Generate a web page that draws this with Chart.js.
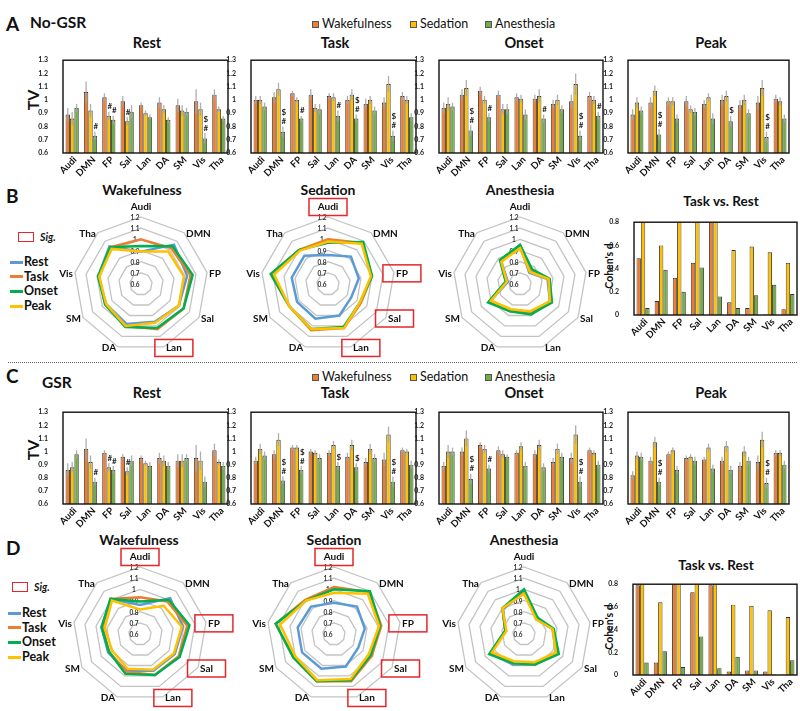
<!DOCTYPE html>
<html>
<head>
<meta charset="utf-8">
<title>TV No-GSR / GSR</title>
<script src="https://cdn.jsdelivr.net/npm/chart.js@4.4.1/dist/chart.umd.min.js"></script>
<style>
  html, body { margin: 0; padding: 0; background: #fff; }
  #page { position: relative; width: 800px; height: 711px; overflow: hidden;
          font-family: Lato, "Open Sans", sans-serif; color: #111; }
  .t { position: absolute; white-space: nowrap; line-height: 1; }
  .xl { position: absolute; white-space: nowrap; line-height: 1; font-size: 9.5px; font-weight: bold;
        transform-origin: 100% 50%; transform: translate(-100%, -50%) rotate(-45deg); }
  .cv { position: absolute; }
  .sep { position: absolute; left: 8px; width: 789px; top: 362px; border-top: 1.5px dotted #666; }
</style>
</head>
<body>
<div id="page"><div class="sep"></div></div>
<script>
// ---- categories / labels ----
const regions = ['Audi', 'DMN', 'FP', 'Sal', 'Lan', 'DA', 'SM', 'Vis', 'Tha'];
const conditions = ['Wakefulness', 'Sedation', 'Anesthesia'];
const phases = ['Rest', 'Task', 'Onset', 'Peak'];
const radarTicks = [0.6, 0.7, 0.8, 0.9, 1.0, 1.1, 1.2];

// ---- No-GSR TV (mean) ----
const ngRestWake  = [0.89, 1.06, 1.02, 0.99, 0.96, 0.98, 0.96, 0.99, 1.04];
const ngRestSed   = [0.86, 0.92, 0.88, 0.84, 0.90, 0.93, 0.92, 0.93, 0.93];
const ngRestAnes  = [0.94, 0.73, 0.85, 0.91, 0.87, 0.85, 0.91, 0.71, 0.86];
const ngTaskWake  = [1.00, 1.02, 1.05, 1.04, 1.03, 1.00, 0.97, 0.98, 1.03];
const ngTaskSed   = [1.00, 1.08, 1.00, 0.94, 1.02, 1.04, 1.00, 1.12, 1.00];
const ngTaskAnes  = [0.95, 0.76, 0.86, 0.93, 0.88, 0.86, 0.92, 0.73, 0.87];
const ngOnsetWake = [0.94, 1.04, 1.07, 1.04, 1.02, 1.01, 0.97, 0.99, 1.03];
const ngOnsetSed  = [0.97, 1.09, 1.00, 0.93, 1.01, 1.03, 1.00, 1.12, 1.00];
const ngOnsetAnes = [0.95, 0.77, 0.87, 0.93, 0.89, 0.86, 0.93, 0.73, 0.88];
const ngPeakWake  = [0.89, 0.98, 0.99, 0.99, 0.97, 1.00, 0.96, 0.98, 1.01];
const ngPeakSed   = [0.98, 1.07, 0.99, 0.93, 1.02, 1.03, 1.00, 1.09, 0.99];
const ngPeakAnes  = [0.92, 0.74, 0.86, 0.91, 0.86, 0.84, 0.90, 0.72, 0.86];

// ---- No-GSR error bars ----
const ngRestWakeErr  = [0.05, 0.08, 0.03, 0.04, 0.02, 0.04, 0.05, 0.09, 0.04];
const ngRestSedErr   = [0.05, 0.05, 0.03, 0.03, 0.02, 0.03, 0.04, 0.05, 0.02];
const ngRestAnesErr  = [0.03, 0.03, 0.03, 0.05, 0.02, 0.02, 0.03, 0.04, 0.02];
const ngTaskWakeErr  = [0.03, 0.04, 0.02, 0.04, 0.02, 0.03, 0.04, 0.04, 0.03];
const ngTaskSedErr   = [0.03, 0.05, 0.02, 0.03, 0.03, 0.04, 0.03, 0.06, 0.03];
const ngTaskAnesErr  = [0.03, 0.04, 0.02, 0.04, 0.04, 0.03, 0.03, 0.04, 0.03];
const ngOnsetWakeErr = [0.04, 0.04, 0.03, 0.03, 0.03, 0.03, 0.03, 0.05, 0.03];
const ngOnsetSedErr  = [0.05, 0.06, 0.03, 0.04, 0.03, 0.05, 0.04, 0.08, 0.03];
const ngOnsetAnesErr = [0.03, 0.04, 0.03, 0.04, 0.04, 0.03, 0.03, 0.04, 0.03];
const ngPeakWakeErr  = [0.04, 0.04, 0.03, 0.04, 0.03, 0.04, 0.04, 0.05, 0.03];
const ngPeakSedErr   = [0.04, 0.04, 0.03, 0.03, 0.03, 0.04, 0.04, 0.06, 0.03];
const ngPeakAnesErr  = [0.03, 0.04, 0.03, 0.03, 0.04, 0.04, 0.03, 0.04, 0.03];

// ---- No-GSR significance marks ----
const ngRestSedMark   = ['', '', '#', '#', '', '', '', '', ''];
const ngRestAnesMark  = ['', '#', '#', '', '', '', '', '$#', ''];
const ngTaskAnesMark  = ['', '$#', '#', '', '#', '$#', '', '$#', ''];
const ngOnsetAnesMark = ['', '$#', '#', '', '', '#', '', '$#', '#'];
const ngPeakAnesMark  = ['', '$#', '', '', '', '$', '', '$#', ''];

// ---- GSR TV (mean) ----
const gsrRestWake  = [0.86, 1.02, 0.99, 0.96, 0.95, 0.95, 0.93, 0.95, 1.01];
const gsrRestSed   = [0.88, 0.92, 0.88, 0.85, 0.91, 0.93, 0.93, 0.93, 0.92];
const gsrRestAnes  = [0.98, 0.77, 0.86, 0.93, 0.89, 0.89, 0.95, 0.77, 0.89];
const gsrTaskWake  = [0.93, 0.98, 1.03, 1.00, 0.99, 0.96, 0.92, 0.94, 1.01];
const gsrTaskSed   = [1.02, 1.09, 1.03, 0.99, 1.05, 1.05, 1.02, 1.13, 1.00];
const gsrTaskAnes  = [0.97, 0.78, 0.86, 0.95, 0.89, 0.88, 0.95, 0.77, 0.90];
const gsrOnsetWake = [0.89, 1.00, 1.05, 1.01, 0.99, 0.98, 0.92, 0.95, 1.01];
const gsrOnsetSed  = [1.00, 1.10, 1.02, 0.98, 1.04, 1.05, 1.02, 1.13, 0.99];
const gsrOnsetAnes = [1.00, 0.79, 0.87, 0.96, 0.89, 0.88, 0.96, 0.77, 0.90];
const gsrPeakWake  = [0.82, 0.93, 0.98, 0.95, 0.94, 0.93, 0.89, 0.92, 0.99];
const gsrPeakSed   = [0.97, 1.07, 1.01, 0.96, 1.03, 1.04, 1.00, 1.09, 0.99];
const gsrPeakAnes  = [0.96, 0.77, 0.86, 0.93, 0.87, 0.86, 0.93, 0.76, 0.90];

// ---- GSR error bars ----
const gsrRestWakeErr  = [0.05, 0.08, 0.02, 0.02, 0.02, 0.04, 0.05, 0.10, 0.05];
const gsrRestSedErr   = [0.04, 0.05, 0.03, 0.03, 0.02, 0.04, 0.05, 0.07, 0.02];
const gsrRestAnesErr  = [0.03, 0.03, 0.03, 0.04, 0.03, 0.03, 0.03, 0.04, 0.03];
const gsrTaskWakeErr  = [0.03, 0.03, 0.02, 0.02, 0.02, 0.03, 0.03, 0.05, 0.02];
const gsrTaskSedErr   = [0.04, 0.05, 0.02, 0.02, 0.03, 0.04, 0.04, 0.06, 0.02];
const gsrTaskAnesErr  = [0.03, 0.03, 0.03, 0.03, 0.03, 0.03, 0.03, 0.04, 0.03];
const gsrOnsetWakeErr = [0.03, 0.03, 0.02, 0.03, 0.02, 0.03, 0.03, 0.04, 0.02];
const gsrOnsetSedErr  = [0.05, 0.06, 0.03, 0.03, 0.03, 0.04, 0.04, 0.07, 0.02];
const gsrOnsetAnesErr = [0.03, 0.04, 0.03, 0.02, 0.03, 0.03, 0.03, 0.04, 0.03];
const gsrPeakWakeErr  = [0.03, 0.03, 0.02, 0.02, 0.02, 0.03, 0.03, 0.05, 0.02];
const gsrPeakSedErr   = [0.03, 0.04, 0.02, 0.02, 0.03, 0.04, 0.04, 0.06, 0.02];
const gsrPeakAnesErr  = [0.03, 0.03, 0.03, 0.03, 0.03, 0.03, 0.03, 0.04, 0.03];

// ---- GSR significance marks ----
const gsrRestSedMark   = ['', '', '#', '#', '', '', '', '', ''];
const gsrRestAnesMark  = ['', '#', '#', '', '', '', '', '', ''];
const gsrTaskAnesMark  = ['', '$#', '$#', '', '$', '$', '', '$#', ''];
const gsrOnsetAnesMark = ['', '$#', '#', '', '', '', '', '$#', ''];
const gsrPeakAnesMark  = ['', '$#', '', '', '', '', '', '$#', ''];
const noMark = ['', '', '', '', '', '', '', '', ''];

// ---- Cohen's d, Task vs. Rest ----
const ngCohenWake  = [0.49, 0.12, 0.32, 0.45, 0.95, 0.11, 0.06, 0.005, 0.05];
const ngCohenSed   = [0.98, 0.60, 0.93, 0.90, 1.02, 0.56, 0.59, 0.54, 0.45];
const ngCohenAnes  = [0.06, 0.39, 0.20, 0.41, 0.16, 0.06, 0.17, 0.26, 0.18];
const gsrCohenWake = [0.79, 0.11, 0.92, 0.73, 0.79, 0.03, 0.04, 0.03, 0.005];
const gsrCohenSed  = [0.96, 0.64, 0.98, 0.91, 0.95, 0.62, 0.61, 0.57, 0.51];
const gsrCohenAnes = [0.11, 0.21, 0.07, 0.34, 0.06, 0.16, 0.04, 0.005, 0.13];

// ---- regions boxed as significant in the radar plots ----
const ngSigWake  = ['Lan'];
const ngSigSed   = ['Audi', 'FP', 'Sal', 'Lan'];
const ngSigAnes  = [];
const gsrSigWake = ['Audi', 'FP', 'Sal', 'Lan'];
const gsrSigSed  = ['Audi', 'FP', 'Sal', 'Lan'];
const gsrSigAnes = [];

// ---- styling ----
const FONT = 'Lato, "Open Sans", sans-serif';
const condColors = ['#ED7D31', '#FFC000', '#70AD47'];
const phaseColors = ['#5B9BD5', '#ED7D31', '#00B050', '#FFC000'];

Chart.defaults.font.family = FONT;
Chart.defaults.animation = false;

const page = document.getElementById('page');

function addText(str, x, y, size, o) {
    o = o || {};
    const d = document.createElement('div');
    d.className = 't';
    d.textContent = str;
    d.style.left = x + 'px';
    d.style.top = y + 'px';
    d.style.fontSize = size + 'px';
    d.style.fontWeight = o.bold === false ? 'normal' : 'bold';
    if (o.italic) d.style.fontStyle = 'italic';
    const tx = o.align === 'center' ? '-50%' : '0';
    let tr = 'translate(' + tx + ',-50%)';
    if (o.rotate) tr += ' rotate(' + o.rotate + 'deg)';
    d.style.transform = tr;
    page.appendChild(d);
}

function addBox(x, y, w, h, css) {
    const d = document.createElement('div');
    d.style.position = 'absolute';
    d.style.left = x + 'px';
    d.style.top = y + 'px';
    d.style.width = w + 'px';
    d.style.height = h + 'px';
    d.style.boxSizing = 'border-box';
    Object.assign(d.style, css);
    page.appendChild(d);
}

function makeCanvas(left, top, w, h) {
    const c = document.createElement('canvas');
    c.className = 'cv';
    c.width = w;
    c.height = h;
    c.style.left = left + 'px';
    c.style.top = top + 'px';
    c.style.width = w + 'px';
    c.style.height = h + 'px';
    page.appendChild(c);
    return c;
}

const fmtTick = v => String(+v.toFixed(2));

// error bars, # / $ marks and the black frame of a bar panel
const panelDecor = {
    id: 'panelDecor',
    afterDatasetsDraw(chart, args, opts) {
        const ctx = chart.ctx, area = chart.chartArea, y = chart.scales.y;
        ctx.save();
        if (opts.errors) {
            chart.data.datasets.forEach((ds, di) => {
                const meta = chart.getDatasetMeta(di);
                meta.data.forEach((bar, i) => {
                    const v = ds.data[i], e = opts.errors[di][i];
                    const top = y.getPixelForValue(v + e);
                    ctx.strokeStyle = 'rgba(165,165,165,0.9)';
                    ctx.lineWidth = 1.3;
                    ctx.beginPath();
                    ctx.moveTo(bar.x, top);
                    ctx.lineTo(bar.x, y.getPixelForValue(v - e));
                    ctx.stroke();
                    const mk = opts.marks && opts.marks[di][i];
                    if (mk) {
                        ctx.fillStyle = '#222';
                        ctx.font = 'bold 8px ' + FONT;
                        ctx.textAlign = 'center';
                        ctx.textBaseline = 'middle';
                        for (let k = mk.length - 1; k >= 0; k--) {
                            ctx.fillText(mk[k], bar.x + 1, top - 5 - (mk.length - 1 - k) * 9);
                        }
                    }
                });
            });
        }
        ctx.strokeStyle = '#111';
        ctx.lineWidth = 1.4;
        ctx.strokeRect(area.left, area.top, area.right - area.left, area.bottom - area.top);
        ctx.restore();
    }
};

const PAD_L = 26, PAD_T = 6, PAD_R = 4, PAD_B = 34;

function barPanel(rect, series, yMin, yMax, step, errors, marks) {
    const w = rect.r - rect.l, h = rect.b - rect.t;
    const left = rect.l - PAD_L, top = rect.t - PAD_T;
    const cv = makeCanvas(left, top, w + PAD_L + PAD_R, h + PAD_T + PAD_B);
    const chart = new Chart(cv, {
        type: 'bar',
        data: {
            labels: regions,
            datasets: series.map((d, i) => ({
                label: conditions[i],
                data: d,
                backgroundColor: condColors[i],
                borderColor: '#333',
                borderWidth: 0.9,
                categoryPercentage: 0.72,
                barPercentage: 1.0,
                clip: 0
            }))
        },
        options: {
            responsive: false,
            layout: { padding: { top: PAD_T, right: PAD_R, left: 0, bottom: 0 } },
            plugins: {
                legend: { display: false },
                tooltip: { enabled: false },
                panelDecor: { errors: errors, marks: marks }
            },
            scales: {
                x: {
                    grid: { display: false },
                    border: { display: false },
                    ticks: { display: false },
                    afterFit: s => { s.height = PAD_B; }
                },
                y: {
                    min: yMin, max: yMax,
                    grid: { display: false },
                    border: { display: false },
                    ticks: {
                        stepSize: step, padding: 7, color: '#222',
                        font: { size: 7, weight: 'bold' },
                        callback: v => fmtTick(v)
                    },
                    afterFit: s => { s.width = PAD_L; }
                }
            }
        },
        plugins: [panelDecor]
    });
    // 45 degree category labels, placed at the scale's tick pixels
    const xs = chart.scales.x, area = chart.chartArea;
    regions.forEach((lab, i) => {
        const d = document.createElement('div');
        d.className = 'xl';
        d.textContent = lab;
        d.style.left = (left + xs.getPixelForTick(i) + 3) + 'px';
        d.style.top = (top + area.bottom + 5) + 'px';
        page.appendChild(d);
    });
    return chart;
}

// tick labels, point labels and the red "Sig." boxes on a radar
const radarDecor = {
    id: 'radarDecor',
    beforeDatasetsDraw(chart) {
        const r = chart.scales.r, ctx = chart.ctx;
        ctx.save();
        ctx.font = 'bold 6.5px ' + FONT;
        ctx.fillStyle = '#333';
        ctx.textAlign = 'center';
        ctx.textBaseline = 'middle';
        radarTicks.forEach(v => {
            ctx.fillText(fmtTick(v), r.xCenter - 6, r.yCenter - r.getDistanceFromCenterForValue(v) + 1);
        });
        ctx.restore();
    },
    afterDraw(chart, args, opts) {
        const r = chart.scales.r, ctx = chart.ctx;
        ctx.save();
        ctx.font = 'bold 10px ' + FONT;
        ctx.fillStyle = '#111';
        ctx.textBaseline = 'middle';
        chart.data.labels.forEach((lab, i) => {
            const p = r.getPointPosition(i, r.drawingArea);
            const tw = ctx.measureText(lab).width;
            let cx, cy;
            if (i === 0) {
                cx = p.x; cy = p.y - 10;
            } else if (p.x > r.xCenter) {
                cx = p.x + 2 + tw / 2; cy = p.y + 1;
            } else {
                cx = p.x - 2 - tw / 2; cy = p.y + 1;
            }
            ctx.textAlign = 'center';
            ctx.fillText(lab, cx, cy);
            if (opts.sig && opts.sig.indexOf(lab) >= 0) {
                ctx.strokeStyle = '#E5262B';
                ctx.lineWidth = 1.5;
                ctx.strokeRect(cx - 19, cy - 8.5, 38, 17);
            }
        });
        ctx.restore();
    }
};

const RAD = 67;

function radarPanel(cx, cy, series, sig) {
    const W = 250, H = 190;
    const cv = makeCanvas(cx - W / 2, cy - H / 2, W, H);
    return new Chart(cv, {
        type: 'radar',
        data: {
            labels: regions,
            datasets: series.map((d, i) => ({
                label: phases[i],
                data: d,
                borderColor: phaseColors[i],
                backgroundColor: 'transparent',
                borderWidth: 2.5,
                pointRadius: 0,
                fill: false,
                order: 3 - i
            }))
        },
        options: {
            responsive: false,
            layout: { padding: { left: W / 2 - RAD, right: W / 2 - RAD, top: H / 2 - RAD, bottom: H / 2 - RAD } },
            plugins: {
                legend: { display: false },
                tooltip: { enabled: false },
                radarDecor: { sig: sig }
            },
            scales: {
                r: {
                    min: 0.6, max: 1.2,
                    ticks: { display: false, stepSize: 0.1 },
                    grid: { circular: false, color: '#c3c3c3', lineWidth: 1.3 },
                    angleLines: { display: false },
                    pointLabels: { display: false }
                }
            }
        },
        plugins: [radarDecor]
    });
}

// ---------------- static text ----------------
function condLegend(y) {
    [[312, 0], [410, 1], [485, 2]].forEach(([x, i]) => {
        addBox(x, y - 3.5, 7, 7, { background: condColors[i], border: '1px solid #555' });
        addText(conditions[i], x + 10, y, 12.5, { bold: false });
    });
}

function phaseLegend(x, y0, sigX, sigY) {
    addBox(sigX, sigY - 5, 16, 10, { border: '1.5px solid #E5262B' });
    addText('Sig.', sigX + 22, sigY, 10.5, { italic: true });
    phases.forEach((p, i) => {
        const y = y0 + i * 14.7;
        addBox(x, y - 1.5, 13, 3, { background: phaseColors[i] });
        addText(p, x + 14, y, 12.5);
    });
}

addText('A', 6, 23, 19);
addText('No-GSR', 30, 23, 15.5);
condLegend(24);
addText('TV', 33, 100, 16, { align: 'center', rotate: -90 });

addText('B', 6, 195, 19);
phaseLegend(10, 262, 18, 237);
addText('Task vs. Rest', 721, 202, 13.5, { align: 'center' });
addText("Cohen's d", 609, 266, 10.5, { align: 'center', rotate: -90 });

addText('C', 6, 375, 19);
addText('GSR', 42, 383, 15.5);
condLegend(377);
addText('TV', 33, 450, 16, { align: 'center', rotate: -90 });

addText('D', 6, 547, 19);
phaseLegend(8, 613, 12, 587);
addText('Task vs. Rest', 716, 566, 13.5, { align: 'center' });
addText("Cohen's d", 609, 627, 10.5, { align: 'center', rotate: -90 });

// panel titles
const titleX = [147, 335, 524, 711];
phases.forEach((p, i) => {
    addText(p, titleX[i], 43, 14.5, { align: 'center' });
    addText(p, titleX[i], 393, 14.5, { align: 'center' });
});
[[142, 190], [328, 190], [520, 190], [139, 540], [334, 540], [524, 540]].forEach(([x, y], i) => {
    addText(conditions[i % 3], x, y, 14, { align: 'center' });
});

// ---------------- charts ----------------
const colL = [63, 251, 439, 628], colR = [228, 416, 603, 789];

const ngSeries = [
    [ngRestWake, ngRestSed, ngRestAnes],
    [ngTaskWake, ngTaskSed, ngTaskAnes],
    [ngOnsetWake, ngOnsetSed, ngOnsetAnes],
    [ngPeakWake, ngPeakSed, ngPeakAnes]
];
const ngErrs = [
    [ngRestWakeErr, ngRestSedErr, ngRestAnesErr],
    [ngTaskWakeErr, ngTaskSedErr, ngTaskAnesErr],
    [ngOnsetWakeErr, ngOnsetSedErr, ngOnsetAnesErr],
    [ngPeakWakeErr, ngPeakSedErr, ngPeakAnesErr]
];
const ngMarks = [
    [noMark, ngRestSedMark, ngRestAnesMark],
    [noMark, noMark, ngTaskAnesMark],
    [noMark, noMark, ngOnsetAnesMark],
    [noMark, noMark, ngPeakAnesMark]
];
const gsrSeries = [
    [gsrRestWake, gsrRestSed, gsrRestAnes],
    [gsrTaskWake, gsrTaskSed, gsrTaskAnes],
    [gsrOnsetWake, gsrOnsetSed, gsrOnsetAnes],
    [gsrPeakWake, gsrPeakSed, gsrPeakAnes]
];
const gsrErrs = [
    [gsrRestWakeErr, gsrRestSedErr, gsrRestAnesErr],
    [gsrTaskWakeErr, gsrTaskSedErr, gsrTaskAnesErr],
    [gsrOnsetWakeErr, gsrOnsetSedErr, gsrOnsetAnesErr],
    [gsrPeakWakeErr, gsrPeakSedErr, gsrPeakAnesErr]
];
const gsrMarks = [
    [noMark, gsrRestSedMark, gsrRestAnesMark],
    [noMark, noMark, gsrTaskAnesMark],
    [noMark, noMark, gsrOnsetAnesMark],
    [noMark, noMark, gsrPeakAnesMark]
];

for (let p = 0; p < 4; p++) {
    barPanel({ l: colL[p], r: colR[p], t: 55, b: 153 }, ngSeries[p], 0.6, 1.3, 0.1, ngErrs[p], ngMarks[p]);
    barPanel({ l: colL[p], r: colR[p], t: 407, b: 504 }, gsrSeries[p], 0.6, 1.3, 0.1, gsrErrs[p], gsrMarks[p]);
}

// radar: one chart per condition, one line per phase
const ngSig = [ngSigWake, ngSigSed, ngSigAnes];
const gsrSig = [gsrSigWake, gsrSigSed, gsrSigAnes];
const ngCenters = [[141, 284], [328, 284], [520, 284]];
const gsrCenters = [[140, 634], [334, 634], [524, 634]];
for (let c = 0; c < 3; c++) {
    radarPanel(ngCenters[c][0], ngCenters[c][1], ngSeries.map(s => s[c]), ngSig[c]);
    radarPanel(gsrCenters[c][0], gsrCenters[c][1], gsrSeries.map(s => s[c]), gsrSig[c]);
}

// Cohen's d
barPanel({ l: 634, r: 797, t: 217, b: 315 }, [ngCohenWake, ngCohenSed, ngCohenAnes], 0, 0.8, 0.2, null, null);
barPanel({ l: 633, r: 797, t: 579, b: 675 }, [gsrCohenWake, gsrCohenSed, gsrCohenAnes], 0, 0.8, 0.2, null, null);
</script>
</body>
</html>
